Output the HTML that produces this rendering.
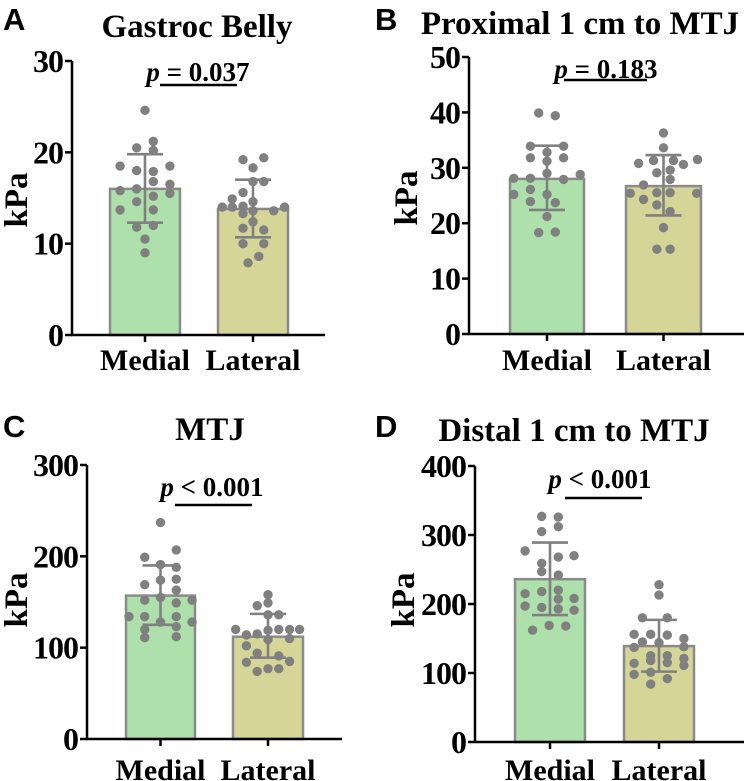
<!DOCTYPE html>
<html><head><meta charset="utf-8"><style>
html,body{margin:0;padding:0;background:#fff}
svg{display:block}
.serif{font-family:"Liberation Serif",serif;font-weight:bold}
.sans{font-family:"Liberation Sans",sans-serif;font-weight:bold}
</style></head><body>
<svg id="fig" width="744" height="781" viewBox="0 0 744 781"></svg>
<script>
const categories = ["Medial","Lateral"];
// Panel A
const aMeans = [16.0, 13.8];
const aErrHi = [19.8, 17.0];
const aErrLo = [12.3, 10.7];
const aMedial = [24.6,21.2,20.5,20.2,18.5,18.0,17.9,18.5,16.8,16.0,15.8,16.5,15.5,15.2,14.6,13.7,13.7,11.8,12.0,10.5,9.0];
const aLateral = [19.2,19.4,18.3,16.8,16.8,15.6,14.9,14.0,14.0,13.6,14.0,14.1,14.6,13.6,13.3,12.4,11.7,11.5,10.0,10.0,8.6,7.9];
const aTicks = [0,10,20,30];
// Panel B
const bMeans = [28.0, 26.7];
const bErrHi = [34.0, 32.3];
const bErrLo = [22.4, 21.4];
const bMedial = [39.9,39.4,33.9,33.9,32.8,31.2,31.8,31.8,28.8,28.1,28.1,29.0,27.9,25.2,26.1,25.2,23.9,23.7,21.2,18.3,18.4];
const bLateral = [36.3,33.6,30.8,31.3,31.3,30.6,31.5,29.1,29.6,27.9,26.9,25.5,25.5,25.4,25.4,24.3,23.3,22.1,19.2,15.3,15.3];
const bTicks = [0,10,20,30,40,50];
// Panel C
const cMeans = [157, 112];
const cErrHi = [190, 137];
const cErrLo = [125, 89];
const cMedial = [237,207,199,191,188,174,175,169,163,152,155,152,149,134,134,134,128,128,120,123,111,112];
const cLateral = [158,146,149,136,136,120,114,115,119,120,120,120,110,109,102,94,91,84,85,74,77,77];
const cTicks = [0,100,200,300];
// Panel D
const dMeans = [236, 139];
const dErrHi = [289, 177];
const dErrLo = [184, 102];
const dMedial = [327,326,305,312,277,270,259,268,247,242,215,218,220,208,197,195,207,193,191,162,169,168];
const dLateral = [228,213,180,180,156,156,155,150,145,144,137,138,125,125,121,114,118,115,111,98,101,92,84];
const dTicks = [0,100,200,300,400];

// jitter multipliers (layout)
const jA = [[0,1,-1,1,-3,-1,1,3,1,-1,-3,3,3,1,-1,-3,1,-1,1,0,0],[-1.2,1.3,0,0,1.3,-1.2,-2.5,-3.7,3.8,2.5,-2.5,-1.2,0,0,-1.2,0,-1.2,1.3,-1.2,1.3,0.7,-0.6]];
const jB = [[-1,1,-2,2,0,0,-2,2,4,-4,-2,0,2,-4,-2,0,-2,1,0,-1,1],[0,0,-3,-1.2,1.2,2.4,4.1,-0.8,0.8,0.8,-2.4,-0.8,0.8,-4,4,-2.4,-0.8,0.8,0,-0.8,0.8]];
const jC = [[0,1.9,-1.9,0,1.9,0,1.9,-1.9,1.9,-1.9,0,3.8,1.9,-3.8,-1.9,1.9,0,3.8,-1.9,1.9,-1.9,1.9],[0,-1.3,0,1.3,0,-3.9,-2.6,-1.3,0,1.3,2.6,3.8,2.6,0,-2.6,-1.3,1.3,-2.6,2.6,-1.3,0,1.3]];
const jD = [[-1,1,-1,1,-3,2.9,-1,1,-1,1,-3,-1,1,2.9,-3,-1,1,1,2.9,-2.1,-0.1,1.9],[0,0,-2,1,-3,-1,1,3,-2,0,-3,3,-1,1,3,-3,-1,1,3,-3,-1,1,-1]];

const NS="http://www.w3.org/2000/svg";
const svg=document.getElementById('fig');
function mk(tag,attrs,parent){const e=document.createElementNS(NS,tag);for(const k in attrs)e.setAttribute(k,attrs[k]);(parent||svg).appendChild(e);return e;}

const panels=[
 {id:'a',letter:'A',lx:3,ly:30,title:'Gastroc Belly',tx:197,ty:37,ax:72,y0:335,yTop:61,xEnd:325,bars:[[110,180],[218,288]],ticks:aTicks,means:aMeans,hi:aErrHi,lo:aErrLo,pts:[aMedial,aLateral],jit:jA,ju:8.3,kx:15,ky:200,xl:370,p:'= 0.037',px:198,py:81,sl:[160,237,85]},
 {id:'b',letter:'B',lx:375,ly:30,title:'Proximal 1 cm to MTJ',tx:580,ty:34,ax:469,y0:334,yTop:57,xEnd:744,bars:[[510,584],[626,701]],ticks:bTicks,means:bMeans,hi:bErrHi,lo:bErrLo,pts:[bMedial,bLateral],jit:jB,ju:8.3,kx:405,ky:198,xl:370,p:'= 0.183',px:606,py:78,sl:[564,647,80]},
 {id:'c',letter:'C',lx:3,ly:437,title:'MTJ',tx:210,ty:440,ax:87,y0:739,yTop:465,xEnd:342,bars:[[126,195],[233,303]],ticks:cTicks,means:cMeans,hi:cErrHi,lo:cErrLo,pts:[cMedial,cLateral],jit:jC,ju:8.3,kx:15,ky:600,xl:780,p:'< 0.001',px:212,py:496,sl:[175,252,505]},
 {id:'d',letter:'D',lx:375,ly:437,title:'Distal 1 cm to MTJ',tx:574,ty:441,ax:475,y0:742,yTop:466,xEnd:744,bars:[[515,585],[624,694]],ticks:dTicks,means:dMeans,hi:dErrHi,lo:dErrLo,pts:[dMedial,dLateral],jit:jD,ju:8.3,kx:402,ky:600,xl:780,p:'< 0.001',px:600,py:488,sl:[565,642,498]}
];
const fills=['#ade0ab','#d6d598'];
panels.forEach(P=>{
 const g=mk('g',{});
 
 
 const max=P.ticks[P.ticks.length-1];
 const y=v=>P.y0-(v/max)*(P.y0-P.yTop);
 let t=mk('text',{x:P.lx,y:P.ly,class:'sans','font-size':31},g);t.textContent=P.letter;
 
 t=mk('text',{x:P.tx,y:P.ty,class:'serif','font-size':33,'text-anchor':'middle'},g);t.textContent=P.title;
 
 P.bars.forEach((b,i)=>{
  const r=mk('rect',{x:b[0],y:y(P.means[i]),width:b[1]-b[0],height:P.y0-y(P.means[i]),fill:fills[i],stroke:'#8a8a8a','stroke-width':2.5},g);
  
  
 });
 P.pts.forEach((arr,i)=>{
  const cx=(P.bars[i][0]+P.bars[i][1])/2;
  arr.forEach((v,k)=>{
   const c=mk('circle',{cx:cx+P.jit[i][k]*P.ju,cy:y(v),r:4.7,fill:'#808080'},g);
   
   
  });
 });
 P.bars.forEach((b,i)=>{
  const cx=(b[0]+b[1])/2;
  const e=mk('path',{d:`M${cx},${y(P.hi[i])}V${y(P.lo[i])}M${cx-18},${y(P.hi[i])}H${cx+18}M${cx-18},${y(P.lo[i])}H${cx+18}`,stroke:'#808080','stroke-width':2.6,fill:'none'},g);
  
  
 });
 const ax=mk('path',{d:`M${P.ax},${P.yTop}V${P.y0}H${P.xEnd}`,stroke:'#000','stroke-width':2.5,fill:'none'},g);
 
 P.ticks.forEach(tv=>{
  mk('line',{x1:P.ax-7,x2:P.ax,y1:y(tv),y2:y(tv),stroke:'#000','stroke-width':2.5},g);
  const tl=mk('text',{x:P.ax-9,y:y(tv)+11,class:'serif','font-size':32,'text-anchor':'end','letter-spacing':-1},g);
  tl.textContent=tv;
  
  
 });
 P.bars.forEach((b,i)=>{
  const cx=(b[0]+b[1])/2;
  mk('line',{x1:cx,x2:cx,y1:P.y0,y2:P.y0+7,stroke:'#000','stroke-width':2.5},g);
  const xl=mk('text',{x:cx,y:P.xl,class:'serif','font-size':30,'text-anchor':'middle'},g);
  xl.textContent=categories[i];
  
  
 });
 const k=mk('text',{x:P.kx,y:P.ky,class:'serif','font-size':33,'text-anchor':'middle',transform:`rotate(-90 ${P.kx} ${P.ky})`,dy:12},g);
 k.textContent='kPa';
 
 const pt=mk('text',{x:P.px,y:P.py,class:'serif','font-size':27,'text-anchor':'middle'},g);
 const ts=mk('tspan',{'font-style':'italic'},pt);ts.textContent='p';
 const ts2=mk('tspan',{},pt);ts2.textContent=' '+P.p;
 
 const sl=mk('line',{x1:P.sl[0],x2:P.sl[1],y1:P.sl[2],y2:P.sl[2],stroke:'#000','stroke-width':2.5},g);
 
});
</script>
</body></html>
